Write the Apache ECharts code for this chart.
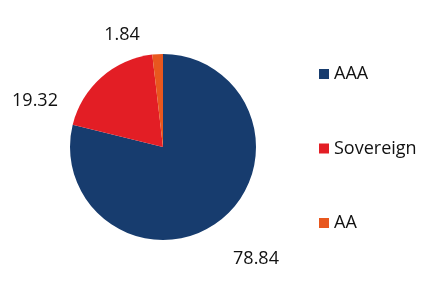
<!DOCTYPE html>
<html><head><meta charset="utf-8">
<script src="https://cdn.jsdelivr.net/npm/echarts@6/dist/echarts.min.js"></script>
<style>html,body{margin:0;padding:0;background:#fff}#c{width:423px;height:300px}</style>
</head><body><div id="c"></div>
<script>
const categories = ['AAA', 'Sovereign', 'AA'];
const values = [78.84, 19.32, 1.84];
const colors = ['#173c6e', '#e31e25', '#e8571e'];
const labelSpots = [[256, 259], [35, 101], [122, 35]];

const chart = echarts.init(document.getElementById('c'));
chart.setOption({
  animation: false,
  legend: {
    orient: 'vertical',
    left: 314,
    top: 59,
    icon: 'rect',
    itemWidth: 10,
    itemHeight: 10,
    itemGap: 54.5,
    textStyle: { fontFamily: 'Open Sans', fontSize: 18, color: '#111', lineHeight: 20 },
    data: categories
  },
  series: [{
    type: 'pie',
    center: [163, 147],
    radius: [0, 93],
    startAngle: 90,
    clockwise: true,
    itemStyle: { borderWidth: 0 },
    label: {
      show: true,
      position: 'outside',
      formatter: p => p.value.toFixed(2),
      fontFamily: 'Open Sans',
      fontSize: 18,
      color: '#111'
    },
    labelLine: { show: false },
    labelLayout: p => ({
      x: labelSpots[p.dataIndex][0],
      y: labelSpots[p.dataIndex][1],
      align: 'center',
      verticalAlign: 'middle'
    }),
    data: categories.map((n, i) => ({ name: n, value: values[i], itemStyle: { color: colors[i] } }))
  }]
});
</script></body></html>
